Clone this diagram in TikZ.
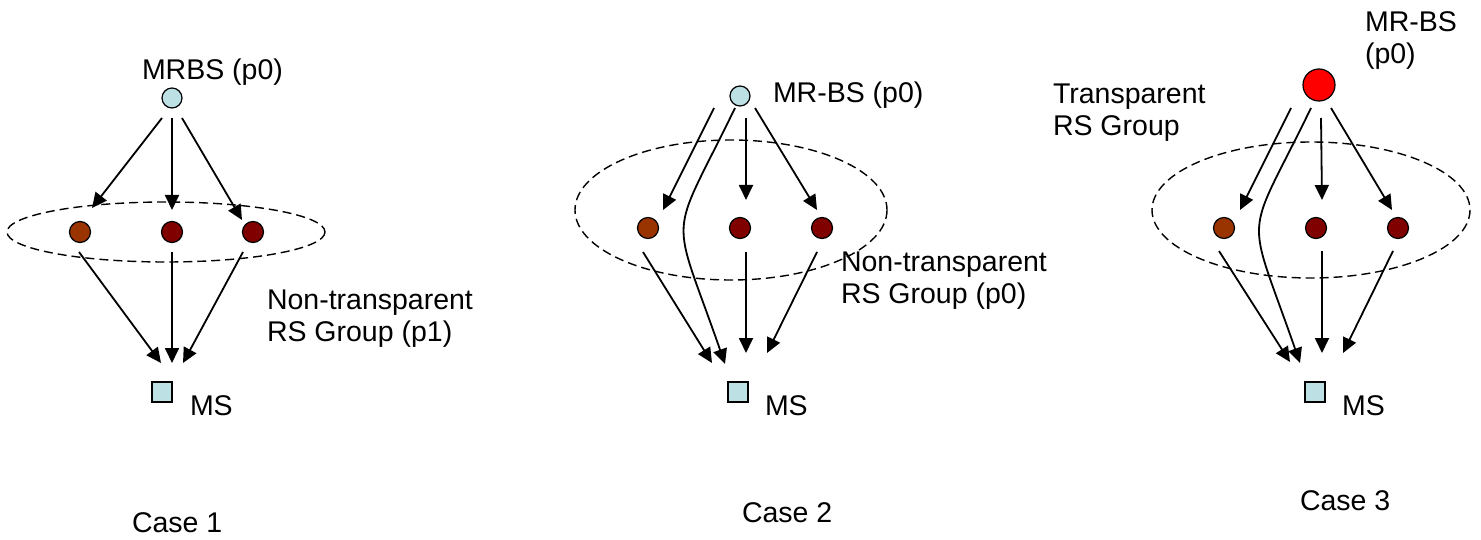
\documentclass[tikz,border=0pt]{standalone}
\usepackage{fontspec}
\setmainfont{Liberation Sans}
\usetikzlibrary{arrows.meta,calc}
\definecolor{bslight}{HTML}{BCE0E4}
\definecolor{rsbrown}{HTML}{993300}
\definecolor{rsdark}{HTML}{800000}
\definecolor{bsred}{HTML}{FF0000}
\newcommand\twolines[2]{\begin{tabular}[t]{@{}l@{}}#1\\#2\end{tabular}}
\begin{document}
\begin{tikzpicture}[x=1pt,y=-1pt,
  every node/.style={inner sep=0pt, outer sep=0pt},
  lbl/.style={anchor=base west, font=\fontsize{28.5}{32}\selectfont},
  bsnode/.style={circle, draw, line width=1.2pt, fill=bslight, minimum size=20pt},
  redbs/.style={circle, draw, line width=1.2pt, fill=bsred, minimum size=32pt},
  rsA/.style={circle, draw, line width=1.2pt, fill=rsbrown, minimum size=21pt},
  rsB/.style={circle, draw, line width=1.2pt, fill=rsdark, minimum size=21pt},
  msnode/.style={rectangle, draw, line width=1.2pt, fill=bslight, minimum size=20pt},
  grp/.style={draw, dash pattern=on 9pt off 5pt, line width=1.4pt},
  arr/.style={line width=1.8pt, -{Triangle[length=15pt,width=14pt]}}
]
\useasboundingbox (0,0) rectangle (1481,540);

% ---------------- Case 1 ----------------
\draw[grp] (166,232) ellipse [x radius=159, y radius=30];
\node[bsnode] (m1) at (172,98) {};
\node[rsA] (r1a) at (80,232) {};
\node[rsB] (r1b) at (172,232) {};
\node[rsB] (r1c) at (253,232) {};
\node[msnode] (s1) at (162,392) {};
\node[lbl] (t1) at (142,80) {MRBS (p0)};
\node[lbl] (g1) at (267,309) {\twolines{Non-transparent}{RS Group (p1)}};
\node[lbl] (u1) at (190,415) {MS};
\node[lbl] (c1) at (132,532) {Case 1};
\draw[arr] ($(m1)+(-10,20)$) -- ($(r1a)+(12,-24)$);
\draw[arr] ($(m1)+(0,20)$) -- ($(r1b)+(0,-22)$);
\draw[arr] ($(m1)+(10,20)$) -- ($(r1c)+(-11,-12)$);
\draw[arr] ($(r1a)+(-1,20)$) -- ($(s1)+(-1,-29)$);
\draw[arr] ($(r1b)+(0,20)$) -- ($(s1)+(10,-29)$);
\draw[arr] ($(r1c)+(-10,20)$) -- ($(s1)+(21,-29)$);

% ---------------- Case 2 ----------------
\draw[grp] (731,210) ellipse [x radius=156, y radius=70];
\node[bsnode] (m2) at (740,96) {};
\node[rsA] (r2a) at (648,228) {};
\node[rsB] (r2b) at (740,228) {};
\node[rsB] (r2c) at (822,228) {};
\node[msnode] (s2) at (738,392) {};
\node[lbl] (t2) at (773,103) {MR-BS (p0)};
\node[lbl] (g2) at (841,272) {\twolines{Non-transparent}{RS Group (p0)}};
\node[lbl] (u2) at (765,415) {MS};
\node[lbl] (c2) at (742,522) {Case 2};
\draw[arr] ($(m2)+(-26,12)$) -- ($(r2a)+(15,-18)$);
\draw[arr] ($(m2)+(-5,12)$) .. controls ($(m2)+(-72,150)$) and ($(m2)+(-70,110)$) .. ($(s2)+(-13,-28)$);
\draw[arr] ($(m2)+(6,22)$) -- ($(r2b)+(6,-28)$);
\draw[arr] ($(m2)+(15,12)$) -- ($(r2c)+(-5,-18)$);
\draw[arr] ($(r2a)+(-5,24)$) -- ($(s2)+(-26,-29)$);
\draw[arr] ($(r2b)+(6,24)$) -- ($(s2)+(8,-39)$);
\draw[arr] ($(r2c)+(-5,24)$) -- ($(s2)+(29,-39)$);

% ---------------- Case 3 ----------------
\draw[grp] (1311,210) ellipse [x radius=159, y radius=68];
\node[redbs] (m3) at (1319,85) {};
\node[rsA] (r3a) at (1224,228) {};
\node[rsB] (r3b) at (1316,228) {};
\node[rsB] (r3c) at (1398,228) {};
\node[msnode] (s3) at (1315,392) {};
\node[lbl] (t3) at (1365,32) {\twolines{MR-BS}{(p0)}};
\node[lbl] (g3) at (1053,104) {\twolines{Transparent}{RS Group}};
\node[lbl] (u3) at (1342,415) {MS};
\node[lbl] (c3) at (1300,510) {Case 3};
\draw[arr] ($(m3)+(-28,23)$) -- ($(r3a)+(16,-18)$);
\draw[arr] ($(m3)+(-8,23)$) .. controls ($(m3)+(-75,161)$) and ($(m3)+(-74,120)$) .. ($(s3)+(-15,-29)$);
\draw[arr] ($(m3)+(2,33)$) -- ($(r3b)+(6,-28)$);
\draw[arr] ($(m3)+(12,23)$) -- ($(r3c)+(-6,-18)$);
\draw[arr] ($(r3a)+(-5,23)$) -- ($(s3)+(-25,-30)$);
\draw[arr] ($(r3b)+(6,23)$) -- ($(s3)+(7,-39)$);
\draw[arr] ($(r3c)+(-5,23)$) -- ($(s3)+(28,-39)$);
\end{tikzpicture}
\end{document}
